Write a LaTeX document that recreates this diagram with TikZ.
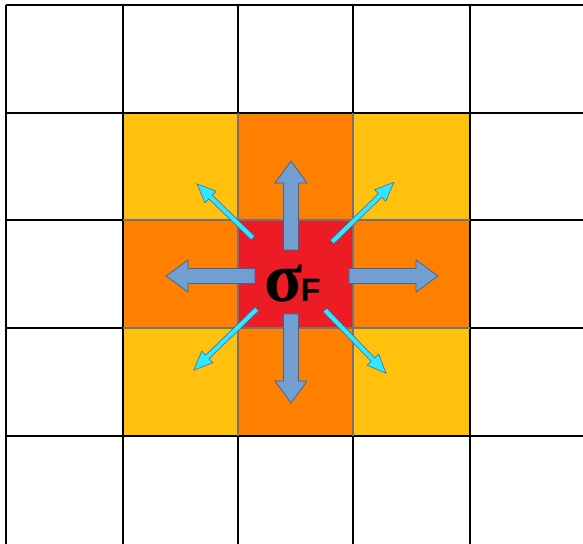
\documentclass[tikz,border=0pt]{standalone}
\usepackage{fontspec}
\newfontfamily\sigmafont{Liberation Serif}
\newfontfamily\subfont{Liberation Sans}
\usetikzlibrary{positioning}
\definecolor{cellyellow}{RGB}{255,193,14}
\definecolor{cellorange}{RGB}{255,127,0}
\definecolor{cellred}{RGB}{237,28,36}
\definecolor{arrowblue}{RGB}{114,159,207}
\definecolor{arrowedge}{RGB}{52,101,164}
\definecolor{sparkcyan}{RGB}{51,230,255}
\tikzset{
  gridline/.style={draw=black, line width=0.9pt},
  innerline/.style={draw=black!55, line width=0.9pt},
  fatarrow/.style={fill=arrowblue, draw=arrowedge, line width=0.4pt, line join=miter},
  thinarrow/.style={fill=sparkcyan, draw=arrowedge, line width=0.3pt, line join=miter},
  sigmalabel/.style={anchor=base west, inner sep=0pt, text=black}
}
\newcommand{\fatarrow}[2]{
  \draw[fatarrow, shift={(#1)}, rotate=#2]
    (0,-7.5) -- (67,-7.5) -- (67,-16) -- (89,0) -- (67,16) -- (67,7.5) -- (0,7.5) -- cycle;
}
\newcommand{\thinarrow}[3]{
  \draw[thinarrow, shift={(#1)}, rotate=#2]
    (0,-2.5) -- ({#3-19},-2.5) -- ({#3-19},-8) -- (#3,0) -- ({#3-19},8) -- ({#3-19},2.5) -- (0,2.5) -- cycle;
}

\begin{document}
\begin{tikzpicture}[x=0.02cm, y=-0.02cm]
  \useasboundingbox[fill=white] (0,0) rectangle (583,544);

  \foreach \x in {6,123,238,353,470}
    \draw[gridline] (\x,5) -- (\x,544);
  \foreach \y in {5,113,220,328,436}
    \draw[gridline] (6,\y) -- (583,\y);

  \foreach \xa/\ya/\xb/\yb/\c in {123/113/238/220/cellyellow, 238/113/353/220/cellorange,
      353/113/470/220/cellyellow, 123/220/238/328/cellorange, 238/220/353/328/cellred,
      353/220/470/328/cellorange, 123/328/238/436/cellyellow, 238/328/353/436/cellorange,
      353/328/470/436/cellyellow}
    \fill[\c] (\xa,\ya) rectangle (\xb,\yb);
  \draw[gridline] (123,113) rectangle (470,436);
  \draw[innerline] (238,113) -- (238,436);
  \draw[innerline] (353,113) -- (353,436);
  \draw[innerline] (123,220) -- (470,220);
  \draw[innerline] (123,328) -- (470,328);

  \coordinate (upTail) at (291,250);
  \coordinate (leftTail) at (255,276);
  \coordinate (rightTail) at (349,276);
  \coordinate (downTail) at (291,314);
  \fatarrow{upTail}{90}
  \fatarrow{leftTail}{180}
  \fatarrow{rightTail}{0}
  \fatarrow{downTail}{270}

  \coordinate (ulTail) at (253,238);
  \coordinate (urTail) at (332,242);
  \coordinate (llTail) at (257,309);
  \coordinate (lrTail) at (325,310);
  \thinarrow{ulTail}{136}{78}
  \thinarrow{urTail}{44}{86}
  \thinarrow{llTail}{224}{88}
  \thinarrow{lrTail}{314}{88}

  \node[sigmalabel] (sigmaF) at (264,302)
    {\fontsize{40}{44}\sigmafont\bfseries σ\kern-1pt\fontsize{18.5}{20}\subfont\bfseries F};
\end{tikzpicture}
\end{document}
